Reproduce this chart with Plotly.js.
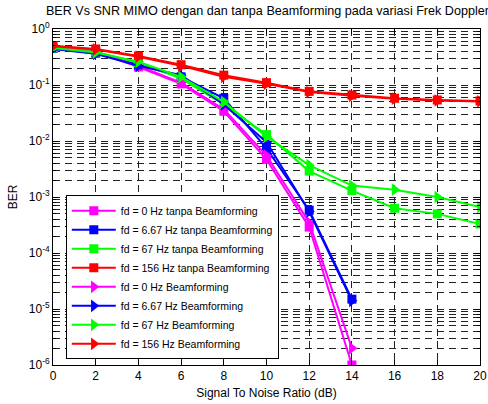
<!DOCTYPE html>
<html><head><meta charset="utf-8">
<script src="https://cdn.plot.ly/plotly-3.0.1.min.js"></script>
<style>html,body{margin:0;padding:0;background:#fff}#chart{width:488px;height:404px}</style>
</head><body><div id="chart"></div>
<script>
const snr = [0, 2, 4, 6, 8, 10, 12, 14, 16, 18, 20];
const names = [
  "fd = 0 Hz tanpa Beamforming",
  "fd = 6.67 Hz tanpa Beamforming",
  "fd = 67 Hz tanpa Beamforming",
  "fd = 156 Hz tanpa Beamforming",
  "fd = 0 Hz Beamforming",
  "fd = 6.67 Hz Beamforming",
  "fd = 67 Hz Beamforming",
  "fd = 156 Hz Beamforming"
];
const ber0Tanpa   = [0.46, 0.40, 0.21, 0.105, 0.034, 0.0047, 2.9e-4, 1e-6];
const ber667Tanpa = [0.45, 0.37, 0.23, 0.14, 0.058, 0.0074, 5.8e-4, 1.5e-5];
const ber67Tanpa  = [0.46, 0.39, 0.25, 0.13, 0.045, 0.013, 0.0029, 0.0013, 6.3e-4, 5e-4, 3.3e-4];
const ber156Tanpa = [0.50, 0.44, 0.33, 0.23, 0.15, 0.11, 0.077, 0.066, 0.058, 0.054, 0.052];
const ber0BF      = [0.45, 0.38, 0.22, 0.11, 0.037, 0.0055, 3.5e-4, 2e-6];
const ber667BF    = [0.44, 0.36, 0.22, 0.15, 0.045, 0.0095, 5.5e-4, 1.4e-5];
const ber67BF     = [0.46, 0.38, 0.26, 0.14, 0.05, 0.012, 0.0037, 0.0016, 0.00135, 0.001, 6.6e-4];
const ber156BF    = [0.49, 0.43, 0.32, 0.22, 0.14, 0.105, 0.075, 0.064, 0.057, 0.053, 0.051];
const series = [ber0Tanpa, ber667Tanpa, ber67Tanpa, ber156Tanpa, ber0BF, ber667BF, ber67BF, ber156BF];
const colors = ["#ff00ff", "#0000ff", "#00ff00", "#ff0000", "#ff00ff", "#0000ff", "#00ff00", "#ff0000"];
const symbols = ["square", "square", "square", "square", "triangle-right", "triangle-right", "triangle-right", "triangle-right"];
const yTickVals = [1e-6, 1e-5, 1e-4, 1e-3, 1e-2, 1e-1, 1];
const yTickText = ["10<sup>-6</sup>", "10<sup>-5</sup>", "10<sup>-4</sup>", "10<sup>-3</sup>", "10<sup>-2</sup>", "10<sup>-1</sup>", "10<sup>0</sup>"];

const traces = series.map((ys, i) => ({
  x: snr.slice(0, ys.length), y: ys, name: names[i], type: "scatter", mode: "lines+markers",
  line: {color: colors[i], width: 2},
  marker: {symbol: symbols[i], size: symbols[i] === "square" ? 9 : 11, color: colors[i], line: {width: 0}}
}));

const font = {family: "Liberation Sans, Arial, sans-serif", size: 12, color: "#000"};
const layout = {
  width: 488, height: 404,
  margin: {l: 53, r: 8, t: 29, b: 39},
  paper_bgcolor: "#fff", plot_bgcolor: "#fff",
  font: font,
  title: {text: "BER Vs SNR MIMO dengan dan tanpa Beamforming pada variasi Frek Doppler",
          font: {family: font.family, size: 12.6, color: "#000"}, x: 0.548, xanchor: "center", y: 0.985, yanchor: "top"},
  xaxis: {
    range: [0, 20], tickvals: snr, ticks: "inside", ticklen: 5, tickcolor: "#000",
    showline: true, linecolor: "#000", linewidth: 1, mirror: "ticks",
    showgrid: true, gridcolor: "#222", griddash: "7px,5px", gridwidth: 1, zeroline: false,
    title: {text: "Signal To Noise Ratio (dB)", font: font, standoff: 6},
    tickfont: font
  },
  yaxis: {
    type: "log", range: [-6, 0], tickvals: yTickVals, ticktext: yTickText,
    ticks: "inside", ticklen: 5, tickcolor: "#000",
    showline: true, linecolor: "#000", linewidth: 1, mirror: "ticks",
    showgrid: true, gridcolor: "#222", griddash: "7px,5px", gridwidth: 1, zeroline: false,
    minor: {dtick: "D1", ticks: "inside", ticklen: 3, tickcolor: "#000", showgrid: true, gridcolor: "#222", griddash: "7px,5px", gridwidth: 1},
    title: {text: "BER", font: font, standoff: 8},
    tickfont: font
  },
  legend: {
    x: 0.03, y: 0.505, xanchor: "left", yanchor: "top",
    bgcolor: "#fff", bordercolor: "#000", borderwidth: 1,
    font: {family: font.family, size: 10.5, color: "#000"},
    tracegroupgap: 0, itemwidth: 44
  },
  showlegend: true
};
Plotly.newPlot("chart", traces, layout, {displayModeBar: false, staticPlot: true});
</script>
</body></html>
